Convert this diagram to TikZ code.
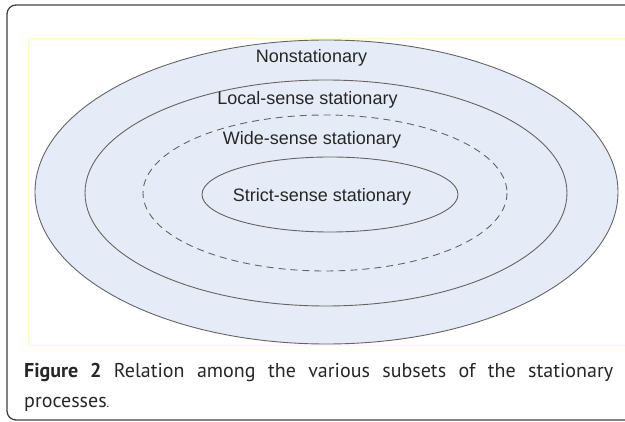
\documentclass[tikz,border=0pt]{standalone}
\usepackage{fontspec}
\setmainfont{Liberation Sans}
\newfontfamily\capfont{PT Sans}
\definecolor{ellfill}{RGB}{230,236,247}
\definecolor{ellline}{RGB}{100,100,100}
\begin{document}
\begin{tikzpicture}[x=1pt,y=-1pt,
  ell/.style={draw=ellline, fill=ellfill, line width=0.9pt},
  lab/.style={font=\fontsize{18}{20}\selectfont, inner sep=0pt, anchor=base, text=black!85}]
\useasboundingbox (0,0) rectangle (625,422);
\draw[black!75, line width=1.3pt, rounded corners=9pt] (7,5) rectangle (640,420);
\draw[yellow!20, line width=0.5pt] (28,38) rectangle (640,345);
\draw[ell] (326.5,192) ellipse [x radius=291.5, y radius=152];
\draw[ell] (326,193) ellipse [x radius=241, y radius=113];
\draw[ell, dashed, dash pattern=on 7pt off 5pt] (325,193) ellipse [x radius=182, y radius=78];
\draw[ell] (330,194.5) ellipse [x radius=128, y radius=37.5];
\node[lab] (ns) at (311.5,62.5) {Nonstationary};
\node[lab] (ls) at (307.5,105) {Local-sense stationary};
\node[lab] (ws) at (312,145) {Wide-sense stationary};
\node[lab] (ss) at (322,202) {Strict-sense stationary};
\node[anchor=base west, inner sep=0pt, text width=589pt, align=justify,
  font=\capfont\fontsize{20}{29.5}\selectfont, text=black!85] (cap) at (24,378)
  {\textbf{Figure 2} Relation among the various subsets of the stationary\linebreak processes{\fontsize{12}{12}\selectfont.}};
\end{tikzpicture}
\end{document}
